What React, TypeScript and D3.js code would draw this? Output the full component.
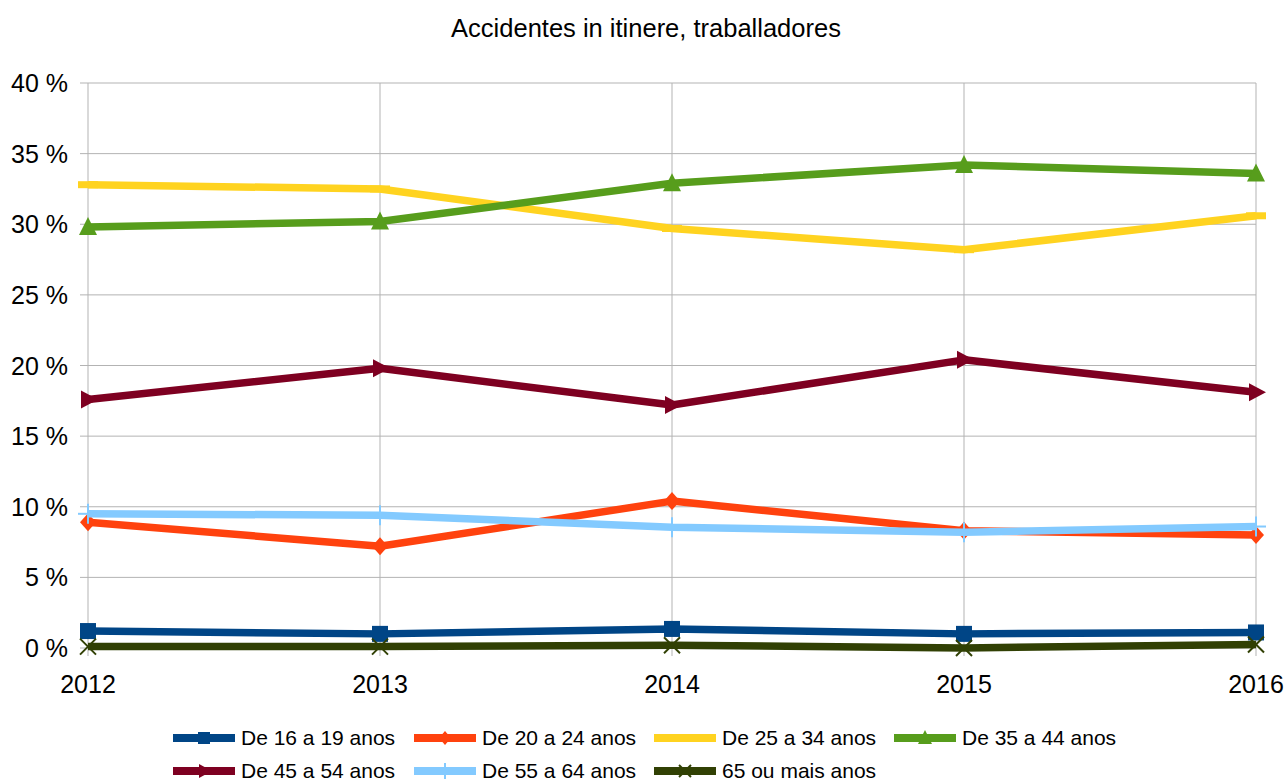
import React from "react";
import * as d3 from "d3";

const years = ["2012", "2013", "2014", "2015", "2016"];
const seriesNames = [
  "De 16 a 19 anos",
  "De 20 a 24 anos",
  "De 25 a 34 anos",
  "De 35 a 44 anos",
  "De 45 a 54 anos",
  "De 55 a 64 anos",
  "65 ou mais anos",
];
const v16_19 = [1.2, 1.0, 1.35, 1.0, 1.1];
const v20_24 = [8.9, 7.2, 10.4, 8.3, 8.0];
const v25_34 = [32.8, 32.5, 29.7, 28.2, 30.6];
const v35_44 = [29.8, 30.2, 32.9, 34.2, 33.6];
const v45_54 = [17.6, 19.8, 17.2, 20.4, 18.1];
const v55_64 = [9.5, 9.4, 8.55, 8.2, 8.6];
const v65 = [0.1, 0.1, 0.2, 0.0, 0.25];
const seriesValues = [v16_19, v20_24, v25_34, v35_44, v45_54, v55_64, v65];
const colors = ["#004586", "#ff420e", "#ffd320", "#579d1c", "#7e0021", "#83caff", "#314004"];
const markers = ["square", "diamond", "hbar", "triangle", "arrow", "plus", "cross"];
const yTicks = [0, 5, 10, 15, 20, 25, 30, 35, 40];

function Marker({ kind, x, y, color, s }: { kind: string; x: number; y: number; color: string; s: number }) {
  const h = s / 2;
  switch (kind) {
    case "square":
      return <rect x={x - h} y={y - h} width={s} height={s} fill={color} />;
    case "diamond":
      return <path d={`M${x},${y - h - 1}L${x + h},${y}L${x},${y + h + 1}L${x - h},${y}Z`} fill={color} />;
    case "hbar":
      return <rect x={x - h - 2} y={y - 3.5} width={s + 4} height={7} fill={color} />;
    case "triangle":
      return <path d={`M${x},${y - h - 2}L${x + h + 1},${y + h}L${x - h - 1},${y + h}Z`} fill={color} />;
    case "arrow":
      return <path d={`M${x + h + 2},${y}L${x - h + 1},${y - h - 1}L${x - h + 1},${y + h + 1}Z`} fill={color} />;
    case "plus":
      return (
        <g stroke={color} strokeWidth={2}>
          <line x1={x} x2={x} y1={y - h - 2} y2={y + h + 2} />
          <line x1={x - h - 2} x2={x + h + 2} y1={y} y2={y} />
        </g>
      );
    case "cross":
      return (
        <g stroke={color} strokeWidth={2}>
          <line x1={x - h} x2={x + h} y1={y - h} y2={y + h} />
          <line x1={x - h} x2={x + h} y1={y + h} y2={y - h} />
        </g>
      );
  }
  return null;
}

export default function App() {
  const W = 1285, H = 781;
  const x = d3.scalePoint<string>().domain(years).range([88, 1256]);
  const y = d3.scaleLinear().domain([0, 40]).range([648, 83]);
  const line = d3
    .line<number>()
    .x((_, i) => x(years[i]) as number)
    .y((d) => y(d));
  const font = "'Liberation Sans', Arial, sans-serif";

  const legendX = [173, 414, 654, 894];
  const legendY = [738, 771];

  return (
    <svg width={W} height={H} style={{ position: "absolute", left: 0, top: 0, background: "#fff" }} fontFamily={font}>
      <rect width={W} height={H} fill="#fff" />
      <text x={646} y={37} textAnchor="middle" fontSize={25.5} fill="#000">
        Accidentes in itinere, traballadores
      </text>
      {yTicks.map((t) => (
        <g key={t}>
          <line x1={80} x2={1256} y1={y(t)} y2={y(t)} stroke="#b3b3b3" strokeWidth={1} />
          <text x={68} y={y(t) + 9} textAnchor="end" fontSize={25} fill="#000">
            {t} %
          </text>
        </g>
      ))}
      {years.map((yr) => (
        <line key={yr} x1={x(yr)} x2={x(yr)} y1={83} y2={656} stroke="#b3b3b3" strokeWidth={1} />
      ))}
      {years.map((yr) => (
        <text key={yr} x={x(yr)} y={693} textAnchor="middle" fontSize={25} fill="#000">
          {yr}
        </text>
      ))}
      {seriesValues.map((vals, si) => (
        <g key={si}>
          <path d={line(vals) || ""} fill="none" stroke={colors[si]} strokeWidth={7.5} strokeLinejoin="round" />
          {vals.map((v, i) => (
            <Marker key={i} kind={markers[si]} x={x(years[i]) as number} y={y(v)} color={colors[si]} s={16} />
          ))}
        </g>
      ))}
      {seriesNames.map((name, i) => {
        const lx = legendX[i % 4];
        const ly = legendY[Math.floor(i / 4)];
        return (
          <g key={name}>
            <line x1={lx} x2={lx + 62} y1={ly} y2={ly} stroke={colors[i]} strokeWidth={8} />
            <Marker kind={markers[i]} x={lx + 31} y={ly} color={colors[i]} s={12} />
            <text x={lx + 68} y={ly + 7} fontSize={21} fill="#000">
              {name}
            </text>
          </g>
        );
      })}
    </svg>
  );
}
